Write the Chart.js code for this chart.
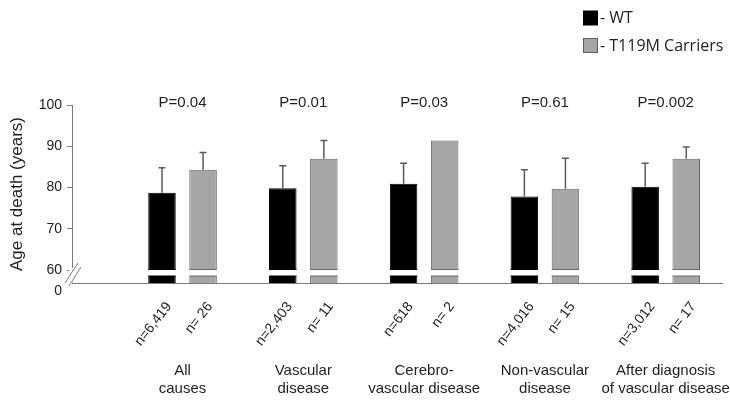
<!DOCTYPE html>
<html>
<head>
<meta charset="utf-8">
<script src="https://cdn.jsdelivr.net/npm/chart.js@4"></script>
<style>
  html, body { margin: 0; padding: 0; background: #fff; }
  #wrap { width: 730px; height: 401px; }
</style>
</head>
<body>
<div id="wrap"><canvas id="grafico"></canvas></div>
<script>
// dados
const categorias = [
  ['All', 'causes'],
  ['Vascular', 'disease'],
  ['Cerebro-', 'vascular disease'],
  ['Non-vascular', 'disease'],
  ['After diagnosis', 'of vascular disease']
];
const mediaWT = [78.7, 79.8, 80.9, 77.8, 80.2];
const desvioWT = [6.1, 5.5, 5.0, 6.5, 5.7];
const mediaCarriers = [84.3, 87.0, 91.4, 79.7, 87.0];
const desvioCarriers = [4.2, 4.4, null, 7.4, 2.8];
const nWT = ['n=6,419', 'n=2,403', 'n=618', 'n=4,016', 'n=3,012'];
const nCarriers = ['n= 26', 'n= 11', 'n= 2', 'n= 15', 'n= 17'];
const valoresP = ['P=0.04', 'P=0.01', 'P=0.03', 'P=0.61', 'P=0.002'];
const ticksY = [60, 70, 80, 90, 100];
const legendas = ['- WT', '- T119M Carriers'];

// base do eixo quebrado (o "0" fica um pouco abaixo dela)
const baseY = 56.85;
const tickZero = 54.9;
const fonte = '"Liberation Sans", Arial, sans-serif';
const corTexto = '#1e1e1e';
const corEixo = '#7a7a7a';

function pontos(valores) {
  return valores.map((v, i) => ({ x: i + 1, y: v }));
}

const extras = {
  id: 'extras',
  afterDatasetsDraw(chart) {
    const ctx = chart.ctx;
    const y = chart.scales.y;
    const area = chart.chartArea;
    ctx.save();

    // barras de erro (so para cima)
    chart.data.datasets.forEach((ds, d) => {
      const meta = chart.getDatasetMeta(d);
      meta.data.forEach((bar, i) => {
        const sd = ds.erros[i];
        if (sd == null) return;
        const topo = y.getPixelForValue(ds.data[i].y + sd);
        ctx.strokeStyle = '#5a5a5a';
        ctx.lineWidth = 1.5;
        ctx.beginPath();
        ctx.moveTo(bar.x, bar.y);
        ctx.lineTo(bar.x, topo);
        ctx.moveTo(bar.x - 3.5, topo);
        ctx.lineTo(bar.x + 3.5, topo);
        ctx.stroke();
      });
    });

    // quebra do eixo
    const g1 = y.getPixelForValue(60) - 0.5;
    const g2 = g1 + 6.5;
    ctx.fillStyle = '#fff';
    ctx.fillRect(area.left + 2, g1, area.right - area.left - 2, g2 - g1);
    ctx.fillRect(area.left - 3, y.getPixelForValue(60) - 2, 6, area.bottom - y.getPixelForValue(60) + 1.5);
    chart.data.datasets.forEach((ds, d) => {
      const meta = chart.getDatasetMeta(d);
      ctx.strokeStyle = ds.borderColor;
      ctx.lineWidth = 1;
      meta.data.forEach(bar => {
        ctx.beginPath();
        ctx.moveTo(bar.x - bar.width / 2, g1);
        ctx.lineTo(bar.x + bar.width / 2, g1);
        ctx.moveTo(bar.x - bar.width / 2, g2);
        ctx.lineTo(bar.x + bar.width / 2, g2);
        ctx.stroke();
      });
    });
    ctx.strokeStyle = corEixo;
    ctx.lineWidth = 1;
    ctx.beginPath();
    ctx.moveTo(area.left - 7, area.bottom);
    ctx.lineTo(area.left + 6, area.bottom - 20);
    ctx.moveTo(area.left - 3, area.bottom + 3);
    ctx.lineTo(area.left + 9, area.bottom - 16);
    ctx.stroke();

    // valores de P
    ctx.fillStyle = corTexto;
    ctx.font = '15px ' + fonte;
    ctx.textAlign = 'center';
    ctx.textBaseline = 'middle';
    valoresP.forEach((p, i) => {
      ctx.fillText(p, chart.scales.x.getPixelForValue(i + 1), y.getPixelForValue(100) - 2);
    });

    // n de cada barra, inclinado
    ctx.font = '14px ' + fonte;
    const listas = [nWT, nCarriers];
    chart.data.datasets.forEach((ds, d) => {
      chart.getDatasetMeta(d).data.forEach((bar, i) => {
        ctx.save();
        ctx.translate(bar.x + 7, area.bottom + 21);
        ctx.rotate(-52 * Math.PI / 180);
        ctx.textAlign = 'right';
        ctx.textBaseline = 'middle';
        ctx.fillText(listas[d][i], 0, 0);
        ctx.restore();
      });
    });

    // legenda
    const cores = [['#000', '#000'], ['#a6a6a6', '#5e5e5e']];
    ctx.font = '16px "Open Sans", sans-serif';
    ctx.textAlign = 'left';
    legendas.forEach((txt, i) => {
      const ly = 11 + i * 27.5;
      ctx.fillStyle = cores[i][0];
      ctx.fillRect(583.5, ly, 14, 14);
      ctx.strokeStyle = cores[i][1];
      ctx.strokeRect(583.5, ly, 14, 14);
      ctx.fillStyle = corTexto;
      ctx.fillText(txt, 600, ly + 7.5);
    });
    ctx.restore();
  }
};

const graficoIdade = new Chart(document.getElementById('grafico'), {
  type: 'bar',
  data: {
    datasets: [{
      label: 'WT',
      data: pontos(mediaWT),
      erros: desvioWT,
      backgroundColor: '#000',
      borderColor: '#000',
      borderWidth: 1,
      categoryPercentage: 0.68,
      barPercentage: 0.67
    }, {
      label: 'T119M Carriers',
      data: pontos(mediaCarriers),
      erros: desvioCarriers,
      backgroundColor: '#a6a6a6',
      borderColor: '#666',
      borderWidth: 1,
      categoryPercentage: 0.68,
      barPercentage: 0.67
    }]
  },
  options: {
    responsive: true,
    maintainAspectRatio: false,
    animation: false,
    layout: { padding: { top: 105, right: 8, left: 0, bottom: 0 } },
    plugins: {
      legend: { display: false },
      tooltip: { enabled: false }
    },
    scales: {
      x: {
        type: 'linear',
        offset: false,
        min: 0.085,
        max: 5.466,
        afterBuildTicks: s => { s.ticks = categorias.map((c, i) => ({ value: i + 1 })); },
        afterFit: s => { s.height = 118; s.paddingLeft = 0; s.paddingRight = 0; },
        ticks: {
          callback: v => categorias[Math.round(v) - 1],
          font: { family: fonte, size: 15 },
          color: corTexto,
          padding: 79,
          maxRotation: 0,
          autoSkip: false
        },
        grid: { display: false, drawTicks: false },
        border: { color: corEixo }
      },
      y: {
        min: baseY,
        max: 100,
        afterBuildTicks: s => { s.ticks = [tickZero].concat(ticksY).map(v => ({ value: v })); },
        afterFit: s => { s.width = 72; s.paddingTop = 0; s.paddingBottom = 0; },
        ticks: {
          callback: v => v === tickZero ? '0' : v,
          font: { family: fonte, size: 14 },
          color: corTexto,
          padding: 5
        },
        grid: {
          drawOnChartArea: false,
          tickLength: 5,
          color: c => (c.tick && c.tick.value === tickZero) ? 'rgba(0,0,0,0)' : corEixo
        },
        border: { color: corEixo },
        title: {
          display: true,
          text: 'Age at death (years)',
          font: { family: fonte, size: 17 },
          color: corTexto,
          padding: { top: 7, bottom: 0 }
        }
      }
    }
  },
  plugins: [extras]
});
</script>
</body>
</html>
